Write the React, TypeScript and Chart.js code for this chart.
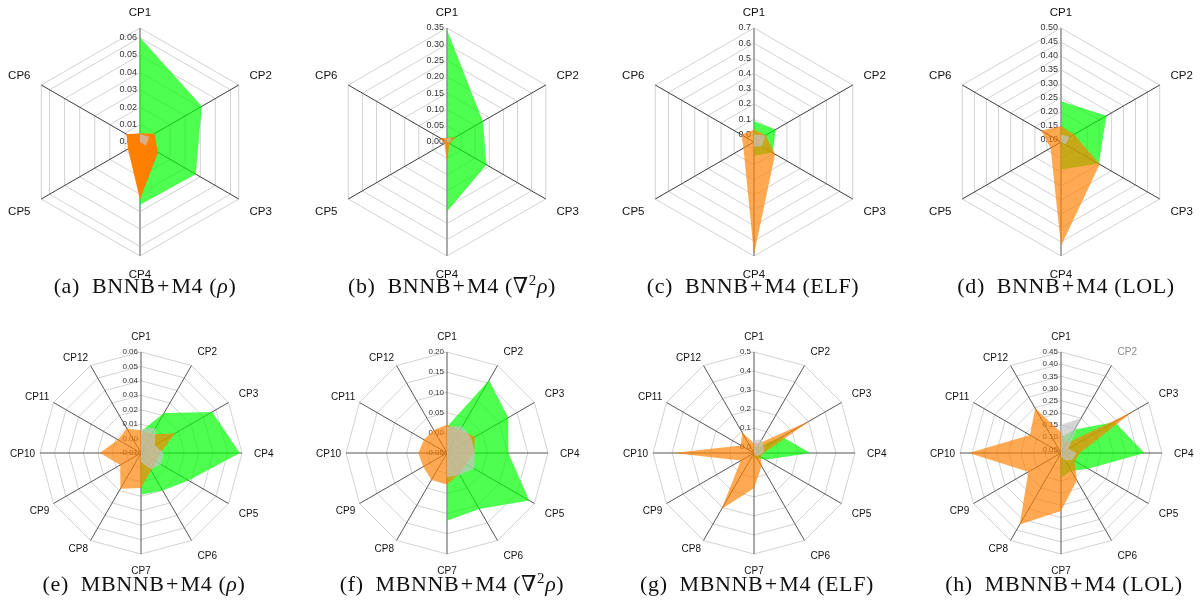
import React, { useEffect, useRef } from "react";
import { Chart, registerables } from "chart.js";

Chart.register(...registerables);

// ---------- categories ----------
const axes6 = ["CP1", "CP2", "CP3", "CP4", "CP5", "CP6"];
const axes12 = ["CP1", "CP2", "CP3", "CP4", "CP5", "CP6", "CP7", "CP8", "CP9", "CP10", "CP11", "CP12"];

// ---------- (a) BNNB+M4 (rho) ----------
const greenA = [0.06, 0.041, 0.037, 0.036, 0, 0];
const orangeA = [0.005, 0.0095, 0.012, 0.033, 0.008, 0.009];
const grayA = [0.0046, 0.006, 0.004, 0, 0, 0];
const ticksA = [0, 0.01, 0.02, 0.03, 0.04, 0.05, 0.06];
const rangeA = [0, 0.0655];

// ---------- (b) BNNB+M4 (lap rho) ----------
const greenB = [0.345, 0.127, 0.14, 0.213, 0, 0];
const orangeB = [0.012, 0.03, 0.01, 0.061, 0.01, 0.024];
const grayB = [0.012, 0.018, 0.005, 0, 0, 0];
const ticksB = [0, 0.05, 0.1, 0.15, 0.2, 0.25, 0.3, 0.35];
const rangeB = [0, 0.35];

// ---------- (c) BNNB+M4 (ELF) ----------
const greenC = [0.087, 0.115, 0.09, 0.04, -0.05, -0.05];
const orangeC = [0.032, 0.039, 0.11, 0.69, 0.03, 0.045];
const grayC = [0.0, 0.035, 0.01, -0.02, -0.05, -0.05];
const ticksC = [0, 0.1, 0.2, 0.3, 0.4, 0.5, 0.6, 0.7];
const rangeC = [-0.05, 0.7];

// ---------- (d) BNNB+M4 (LOL) ----------
const greenD = [0.238, 0.28, 0.248, 0.19, 0.092, 0.092];
const orangeD = [0.148, 0.146, 0.252, 0.464, 0.135, 0.174];
const grayD = [0.119, 0.128, 0.11, 0.092, 0.092, 0.092];
const ticksD = [0.1, 0.15, 0.2, 0.25, 0.3, 0.35, 0.4, 0.45, 0.5];
const rangeD = [0.092, 0.5];

// ---------- (e) MBNNB+M4 (rho) ----------
const greenE = [0.005, 0.022, 0.047, 0.0585, 0.028, 0.02, 0.019, -0.01, -0.01, -0.01, -0.01, -0.01];
const orangeE = [0.0057, 0.005, 0.017, 0.0035, 0.002, 0.004, 0.0143, 0.0186, 0.0066, 0.0185, 0.0085, 0.0096];
const grayE = [0.0066, 0.01, 0.001, 0.0056, 0.006, 0.003, -0.004, -0.01, -0.01, -0.01, -0.01, -0.01];
const ticksE = [-0.01, 0, 0.01, 0.02, 0.03, 0.04, 0.05, 0.06];
const rangeE = [-0.01, 0.06];

// ---------- (f) MBNNB+M4 (lap rho) ----------
const greenF = [0.015, 0.158, 0.125, 0.102, 0.185, 0.11, 0.118, -0.05, -0.05, -0.05, -0.05, -0.05];
const orangeF = [0.02, 0.015, 0.03, 0.017, 0.005, 0.01, 0.028, 0.027, 0.018, 0.021, 0.016, 0.016];
const grayF = [0.0155, 0.026, 0.02, 0.019, 0.027, 0.013, 0.01, -0.05, -0.05, -0.05, -0.05, -0.05];
const ticksF = [-0.05, 0, 0.05, 0.1, 0.15, 0.2];
const rangeF = [-0.05, 0.2];

// ---------- (g) MBNNB+M4 (ELF) ----------
const greenG = [0.0, 0.01, 0.14, 0.266, 0.04, 0.0, 0.0, -0.03, -0.03, -0.03, -0.03, -0.03];
const orangeG = [0.02, 0.03, 0.315, 0.02, 0.01, 0.05, 0.155, 0.31, 0.05, 0.395, 0.05, 0.095];
const grayG = [0.04, 0.05, 0.03, 0.02, 0.0, -0.01, -0.03, -0.03, -0.03, -0.03, -0.03, -0.03];
const ticksG = [0, 0.1, 0.2, 0.3, 0.4, 0.5];
const rangeG = [-0.03, 0.5];

// ---------- (h) MBNNB+M4 (LOL) ----------
const greenH = [0.1, 0.147, 0.29, 0.378, 0.164, 0.12, 0.137, 0.035, 0.035, 0.035, 0.035, 0.035];
const orangeH = [0.12, 0.081, 0.376, 0.113, 0.1, 0.165, 0.273, 0.374, 0.19, 0.414, 0.182, 0.247];
const grayH = [0.151, 0.2, 0.07, 0.099, 0.09, 0.07, 0.05, 0.035, 0.035, 0.035, 0.035, 0.035];
const ticksH = [0.05, 0.1, 0.15, 0.2, 0.25, 0.3, 0.35, 0.4, 0.45];
const rangeH = [0.035, 0.45];

// ---------- captions ----------
const captionLetters = ["a", "b", "c", "d", "e", "f", "g", "h"];
const captionMethods = ["BNNB+M4", "BNNB+M4", "BNNB+M4", "BNNB+M4", "MBNNB+M4", "MBNNB+M4", "MBNNB+M4", "MBNNB+M4"];
const captionProps = ["rho", "lap", "ELF", "LOL", "rho", "lap", "ELF", "LOL"];

// ---------- styles / layout (not data) ----------
const GREEN = "rgba(0,255,0,0.69)";
const ORANGE = "rgba(255,128,0,0.68)";
const ORANGE_SOLID = "rgba(255,128,0,1)";
const GRAY = "rgba(195,195,195,0.7)";
const SANS = '"Liberation Sans", Arial, "DejaVu Sans", sans-serif';
const SERIF = '"Liberation Serif", "Times New Roman", "DejaVu Serif", serif';

type Panel = {
  labels: string[];
  green: number[];
  orange: number[];
  gray: number[];
  ticks: number[];
  range: number[];
  decimals: number;
  cx: number;
  cy: number;
  R: number;
  big: boolean;
  orangeColor: string;
  grayLabelIdx: number;
};

const panels: Panel[] = [
  { labels: axes6, green: greenA, orange: orangeA, gray: grayA, ticks: ticksA, range: rangeA, decimals: 2, cx: 140, cy: 142, R: 114, big: true, orangeColor: ORANGE_SOLID, grayLabelIdx: -1 },
  { labels: axes6, green: greenB, orange: orangeB, gray: grayB, ticks: ticksB, range: rangeB, decimals: 2, cx: 447, cy: 142, R: 114, big: true, orangeColor: ORANGE, grayLabelIdx: -1 },
  { labels: axes6, green: greenC, orange: orangeC, gray: grayC, ticks: ticksC, range: rangeC, decimals: 1, cx: 754, cy: 142, R: 114, big: true, orangeColor: ORANGE, grayLabelIdx: -1 },
  { labels: axes6, green: greenD, orange: orangeD, gray: grayD, ticks: ticksD, range: rangeD, decimals: 2, cx: 1061, cy: 142, R: 114, big: true, orangeColor: ORANGE, grayLabelIdx: -1 },
  { labels: axes12, green: greenE, orange: orangeE, gray: grayE, ticks: ticksE, range: rangeE, decimals: 2, cx: 141, cy: 453, R: 101, big: false, orangeColor: ORANGE, grayLabelIdx: -1 },
  { labels: axes12, green: greenF, orange: orangeF, gray: grayF, ticks: ticksF, range: rangeF, decimals: 2, cx: 447, cy: 453, R: 101, big: false, orangeColor: ORANGE, grayLabelIdx: -1 },
  { labels: axes12, green: greenG, orange: orangeG, gray: grayG, ticks: ticksG, range: rangeG, decimals: 1, cx: 754, cy: 453, R: 101, big: false, orangeColor: ORANGE, grayLabelIdx: -1 },
  { labels: axes12, green: greenH, orange: orangeH, gray: grayH, ticks: ticksH, range: rangeH, decimals: 2, cx: 1061, cy: 453, R: 101, big: false, orangeColor: ORANGE, grayLabelIdx: 1 },
];

const captionPos = [
  [145, 275], [452, 275], [753, 275], [1066, 275],
  [144, 573], [452, 573], [757, 573], [1064, 573],
];

const CANVAS = 300;

function makeTextPlugin(p: Panel) {
  const tickFont = p.big ? 9 : 8;
  const labelFont = p.big ? 11.5 : 10;
  const padRight = p.big ? 12.5 : 12;
  const padLeft = p.big ? 12.5 : 5;
  const belowGap = p.big ? 1.5 : 0.5;
  return {
    id: "radarText",
    beforeDatasetsDraw(chart: any) {
      const s = chart.scales.r;
      const ctx = chart.ctx;
      ctx.save();
      ctx.font = `${tickFont}px ${SANS}`;
      ctx.fillStyle = "#333";
      ctx.textAlign = "right";
      ctx.textBaseline = "middle";
      for (const v of p.ticks) {
        const d = s.getDistanceFromCenterForValue(v);
        ctx.fillText(v.toFixed(p.decimals), s.xCenter - 3, s.yCenter - d);
      }
      ctx.restore();
    },
    afterDraw(chart: any) {
      const s = chart.scales.r;
      const ctx = chart.ctx;
      const n = p.labels.length;
      const cap = labelFont * 0.716;
      ctx.save();
      ctx.font = `${labelFont}px ${SANS}`;
      p.labels.forEach((lab, i) => {
        const ang = (i * 360) / n;
        const pad = ang > 180 ? padLeft : padRight;
        const pt = s.getPointPosition(i, s.drawingArea + pad);
        ctx.textAlign = ang === 0 || ang === 180 ? "center" : ang < 180 ? "left" : "right";
        ctx.textBaseline = "alphabetic";
        let y = pt.y;
        if (ang === 90 || ang === 270) y = pt.y + cap / 2;
        else if (ang < 90 || ang > 270) y = pt.y;
        else y = pt.y + cap + belowGap;
        ctx.fillStyle = i === p.grayLabelIdx ? "#8c8c8c" : "#111";
        ctx.fillText(lab, pt.x, y);
      });
      ctx.restore();
    },
  };
}

function RadarPanel({ p }: { p: Panel }) {
  const ref = useRef<HTMLCanvasElement | null>(null);
  useEffect(() => {
    const [min, max] = p.range;
    const rings = [min, ...p.ticks.filter((t) => t > min + 1e-9 && t < max - 1e-9), max];
    const ds = (data: number[], color: string) => ({
      data,
      backgroundColor: color,
      borderColor: "rgba(0,0,0,0)",
      borderWidth: 0,
      pointRadius: 0,
      pointHoverRadius: 0,
      fill: "start",
      tension: 0,
    });
    const chart = new Chart(ref.current as HTMLCanvasElement, {
      type: "radar",
      data: {
        labels: p.labels,
        datasets: [ds(p.gray, GRAY), ds(p.orange, p.orangeColor), ds(p.green, GREEN)] as any,
      },
      options: {
        animation: false,
        responsive: false,
        events: [],
        layout: { padding: CANVAS / 2 - p.R },
        plugins: { legend: { display: false }, tooltip: { enabled: false } },
        scales: {
          r: {
            min,
            max,
            beginAtZero: false,
            startAngle: 0,
            angleLines: {
              display: true,
              color: (c: any) => (p.big ? (c.index === 0 || c.index === 3 ? "#a9a9a9" : "#3a3a3a") : "#555"),
              lineWidth: (c: any) => (p.big && (c.index === 0 || c.index === 3) ? 2 : 1),
            },
            grid: { color: "#d2d2d2", lineWidth: 1, circular: false },
            ticks: { display: false },
            pointLabels: { display: false },
            afterBuildTicks: (scale: any) => {
              scale.ticks = rings.map((v) => ({ value: v }));
            },
          } as any,
        },
      },
      plugins: [makeTextPlugin(p) as any],
    });
    return () => chart.destroy();
  }, []);
  return (
    <canvas
      ref={ref}
      width={CANVAS}
      height={CANVAS}
      style={{ position: "absolute", left: p.cx - CANVAS / 2, top: p.cy - CANVAS / 2, width: CANVAS, height: CANVAS }}
    />
  );
}

function Caption({ i }: { i: number }) {
  const prop = captionProps[i];
  let propNode: React.ReactNode = prop;
  if (prop === "rho") propNode = <i>ρ</i>;
  else if (prop === "lap")
    propNode = (
      <>
        ∇<sup style={{ fontSize: "0.68em", verticalAlign: "0.55em", lineHeight: 0 }}>2</sup>
        <i>ρ</i>
      </>
    );
  const [x, y] = captionPos[i];
  const [m1, m2] = captionMethods[i].split("+");
  return (
    <div
      style={{
        position: "absolute",
        left: x - 200,
        width: 400,
        top: y,
        textAlign: "center",
        fontFamily: SERIF,
        fontSize: 22,
        lineHeight: "22px",
        whiteSpace: "nowrap",
        letterSpacing: "0.6px",
        color: "#111",
      }}
    >
      ({captionLetters[i]})
      <span style={{ display: "inline-block", width: 12 }} />
      {m1}
      <span style={{ margin: "0 1.5px" }}>+</span>
      {m2} ({propNode})
    </div>
  );
}

export default function App() {
  return (
    <div
      style={{
        position: "fixed",
        left: 0,
        top: 0,
        width: 1203,
        height: 604,
        overflow: "hidden",
        background: "#fff",
      }}
    >
      {panels.map((p, i) => (
        <RadarPanel key={i} p={p} />
      ))}
      {panels.map((_, i) => (
        <Caption key={"c" + i} i={i} />
      ))}
    </div>
  );
}
